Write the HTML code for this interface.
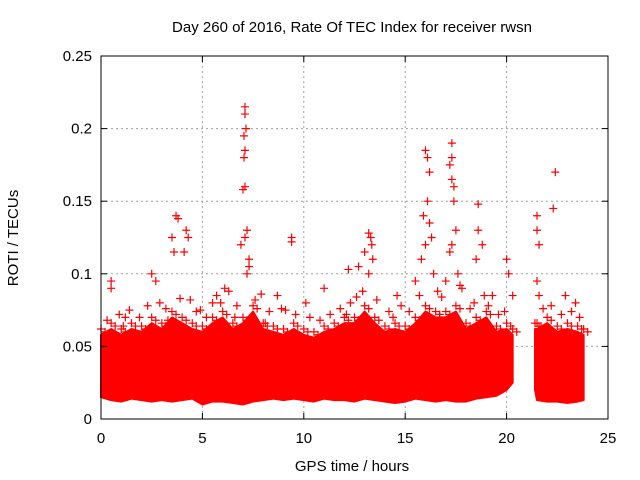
<!DOCTYPE html>
<html><head><meta charset="utf-8"><style>
body{margin:0;background:#fff}
svg{display:block;font-family:"Liberation Sans",sans-serif}
</style></head><body>
<svg id="chart" width="640" height="480">
<rect width="640" height="480" fill="#fff"/>
<text x="352" y="32" font-size="15" text-anchor="middle">Day 260 of 2016, Rate Of TEC Index for receiver rwsn</text>
<text x="352" y="471" font-size="15" text-anchor="middle">GPS time / hours</text>
<text transform="translate(18,238) rotate(-90)" font-size="15" text-anchor="middle">ROTI / TECUs</text>
<g id="grid"></g><g id="band"></g><g id="pts"></g><g id="axes"></g>
</svg>
<script>
const xTicks=[0,5,10,15,20,25];
const yTicks=[0,0.05,0.1,0.15,0.2,0.25];
const yTickLabels=["0","0.05","0.1","0.15","0.2","0.25"];
const bandSeg1T=[0,0.5,1,1.5,2,2.5,3,3.5,4,4.5,5,5.5,6,6.5,7,7.5,8,8.5,9,9.5,10,10.5,11,11.5,12,12.5,13,13.5,14,14.5,15,15.5,16,16.5,17,17.5,18,18.5,19,19.5,20,20.3];
const bandSeg1Hi=[0.058,0.062,0.058,0.062,0.06,0.066,0.062,0.07,0.066,0.062,0.06,0.066,0.07,0.062,0.066,0.074,0.062,0.06,0.058,0.062,0.058,0.056,0.06,0.062,0.066,0.066,0.074,0.066,0.06,0.062,0.06,0.066,0.074,0.07,0.07,0.074,0.062,0.066,0.07,0.06,0.062,0.058];
const bandSeg1Lo=[0.015,0.013,0.012,0.014,0.013,0.012,0.013,0.012,0.013,0.014,0.01,0.012,0.012,0.011,0.01,0.012,0.013,0.014,0.013,0.014,0.013,0.012,0.014,0.013,0.013,0.012,0.014,0.013,0.012,0.011,0.012,0.014,0.013,0.012,0.013,0.012,0.012,0.014,0.015,0.016,0.02,0.025];
const bandSeg2T=[21.4,21.5,22,22.5,23,23.5,23.8];
const bandSeg2Hi=[0.062,0.062,0.066,0.06,0.062,0.06,0.058];
const bandSeg2Lo=[0.02,0.013,0.012,0.012,0.011,0.012,0.013];
const midT=[0.3,0.9,1.4,1.9,2.3,2.9,3.2,3.9,4.4,4.7,5.2,5.9,6.3,6.7,7.6,7.9,8.3,8.9,9.6,10.3,10.8,11.3,11.8,12.3,12.6,12.9,13.6,14.2,14.8,15.2,15.7,16.6,16.8,17.7,18.2,18.4,18.9,19.6,19.9,21.8,22.2,22.7,23.2,23.6,1.1,3.3,6.6,8.1,12.1,14.4,16.7,19.1];
const midV=[0.068,0.072,0.075,0.07,0.078,0.08,0.076,0.083,0.082,0.074,0.07,0.08,0.088,0.078,0.082,0.086,0.074,0.076,0.072,0.07,0.068,0.072,0.076,0.08,0.084,0.088,0.082,0.074,0.078,0.074,0.085,0.088,0.084,0.092,0.076,0.08,0.085,0.072,0.074,0.076,0.078,0.072,0.074,0.07,0.064,0.068,0.07,0.066,0.072,0.07,0.072,0.078];
const outT=[0.5,0.5,2.5,2.7,3.7,3.8,3.5,3.6,4.2,4.3,4.1,6.1,7.1,7.1,7.15,7.05,7.1,7.05,7.1,7.0,7.2,7.1,7.3,7.3,7.2,6.9,9.4,9.4,8.7,11,12.2,12.7,13.0,13.2,13.3,13.35,13.4,13.2,15.5,15.9,16.0,16.1,16.2,16.1,16.2,16.3,16.0,15.8,16.4,17.3,17.3,17.2,17.3,17.4,17.4,17.5,17.3,17.2,17.6,17.0,17.8,18.6,18.6,18.8,18.5,20.0,20.1,20.3,21.5,21.5,21.6,21.5,21.6,22.4,22.3,22.9,23.4,1.2,5.7,5.5,10.1,14.6,19.3,9.1,4.9];
const outV=[0.095,0.09,0.1,0.095,0.14,0.138,0.125,0.115,0.13,0.125,0.115,0.09,0.215,0.21,0.2,0.195,0.185,0.18,0.16,0.158,0.13,0.125,0.11,0.105,0.1,0.12,0.125,0.122,0.085,0.09,0.103,0.105,0.115,0.128,0.125,0.12,0.11,0.1,0.095,0.14,0.185,0.18,0.17,0.15,0.135,0.125,0.12,0.11,0.1,0.19,0.18,0.175,0.165,0.16,0.15,0.13,0.12,0.115,0.1,0.095,0.09,0.148,0.13,0.12,0.11,0.11,0.1,0.085,0.14,0.13,0.12,0.095,0.085,0.17,0.145,0.085,0.08,0.07,0.085,0.08,0.08,0.085,0.085,0.075,0.075];

const L=101,R=608,T=56,B=419;
const X=t=>L+(t/25)*(R-L);
const Y=v=>B-(v/0.25)*(B-T);
const NS="http://www.w3.org/2000/svg";
function mk(tag,parent,attrs){const e=document.createElementNS(NS,tag);for(const k in attrs)e.setAttribute(k,attrs[k]);parent.appendChild(e);return e;}
const grid=document.getElementById('grid'),band=document.getElementById('band'),pts=document.getElementById('pts'),axes=document.getElementById('axes');
xTicks.forEach((t,i)=>{
  if(i>0&&i<xTicks.length-1){const g=mk('line',grid,{x1:X(t),x2:X(t),y1:T,y2:B,stroke:'#a0a0a0','stroke-dasharray':'2,3'});
  
  }
  const tk=mk('line',axes,{x1:X(t),x2:X(t),y1:B,y2:B-6,stroke:'#000'});
  
  
  mk('line',axes,{x1:X(t),x2:X(t),y1:T,y2:T+6,stroke:'#000'});
  const tx=mk('text',axes,{x:X(t),y:B+24,'font-size':15,'text-anchor':'middle'});tx.textContent=t;
  
  
});
yTicks.forEach((v,i)=>{
  if(i>0&&i<yTicks.length-1){const g=mk('line',grid,{x1:L,x2:R,y1:Y(v),y2:Y(v),stroke:'#a0a0a0','stroke-dasharray':'2,3'});
  
  }
  mk('line',axes,{x1:L,x2:L+6,y1:Y(v),y2:Y(v),stroke:'#000'});
  mk('line',axes,{x1:R,x2:R-6,y1:Y(v),y2:Y(v),stroke:'#000'});
  const tx=mk('text',axes,{x:L-9,y:Y(v)+5,'font-size':15,'text-anchor':'end'});tx.textContent=yTickLabels[i];
  
  
});
const frame=mk('rect',axes,{x:L,y:T,width:R-L,height:B-T,fill:'none',stroke:'#000'});


function drawBand(ts,hi,lo,name){
  let d='';ts.forEach((t,i)=>{d+=(i?'L':'M')+X(t)+','+Y(hi[i]);});
  for(let i=ts.length-1;i>=0;i--)d+='L'+X(ts[i])+','+Y(lo[i]);
  const p=mk('path',band,{d:d+'Z',fill:'#ff0000',stroke:'#ff0000','stroke-width':2,'stroke-linejoin':'round'});
  
  
  ts.forEach((t,i)=>{plus(t,hi[i]+0.004);plus(t+0.2,hi[i]+0.002);});
}
function plus(t,v){
  const x=X(t),y=Y(v);
  const p=mk('path',pts,{d:`M${x-4},${y}H${x+4}M${x},${y-4}V${y+4}`,stroke:'#ff0000','stroke-width':1.2});
  
  
}
drawBand(bandSeg1T,bandSeg1Hi,bandSeg1Lo,'roti-dense-band-1');
drawBand(bandSeg2T,bandSeg2Hi,bandSeg2Lo,'roti-dense-band-2');
midT.forEach((t,i)=>plus(t,midV[i]));
outT.forEach((t,i)=>plus(t,outV[i]));
</script>
</body></html>
